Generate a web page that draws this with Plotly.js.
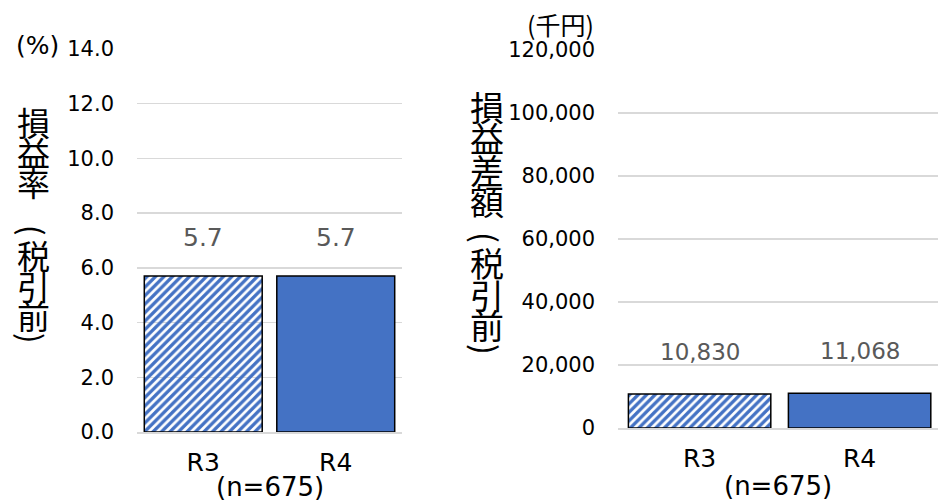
<!DOCTYPE html>
<html>
<head>
<meta charset="utf-8">
<script src="https://cdn.plot.ly/plotly-3.0.1.min.js"></script>
<style>html,body{margin:0;padding:0;background:#fff;}#chart{width:938px;height:501px;}</style>
</head>
<body>
<div id="chart"></div>
<script>
// ---- data ----
const categories = ['R3', 'R4'];
const rateValues = [5.7, 5.7];          // 損益率（税引前） %
const diffValues = [10830, 11068];      // 損益差額（税引前） 千円
const sampleLabel = '(n=675)';
const rateUnit = '(%)';
const diffUnit = '(千円)';
const rateTitleChars = ['損', '益', '率', '(', '税', '引', '前', ')'];
const diffTitleChars = ['損', '益', '差', '額', '(', '税', '引', '前', ')'];

// ---- layout helpers ----
const W = 938, H = 501;
const px = v => v / W;
const py = v => 1 - v / H;
const LATIN = 'DejaVu Sans, Verdana, sans-serif';
const CJK = 'Noto Sans CJK JP, sans-serif';
const BLUE = '#4472C4';
const GRID = '#d9d9d9';

function barTrace(vals, xa, ya) {
  return {
    type: 'bar', x: categories, y: vals, xaxis: xa, yaxis: ya,
    marker: {
      color: [BLUE, BLUE],
      pattern: {shape: ['/', ''], fgcolor: BLUE, bgcolor: ['#ffffff', BLUE], size: 6, solidity: 0.55},
      line: {color: '#000000', width: 1.5}
    },
    hoverinfo: 'skip', showlegend: false
  };
}

const traces = [barTrace(rateValues, 'x', 'y'), barTrace(diffValues, 'x2', 'y2')];

const annotations = [];
// data labels
categories.forEach((c, i) => {
  annotations.push({x: c, y: rateValues[i], xref: 'x', yref: 'y', text: rateValues[i].toFixed(1),
    showarrow: false, xanchor: 'center', yanchor: 'middle', yshift: 39, font: {family: LATIN, size: 25, color: '#595959'}});
  annotations.push({x: c, y: diffValues[i], xref: 'x2', yref: 'y2', text: diffValues[i].toLocaleString('en-US'),
    showarrow: false, xanchor: 'center', yanchor: 'middle', yshift: 42, font: {family: LATIN, size: 23, color: '#595959'}});
});
// sample size under each chart
annotations.push({x: 0.5, xref: 'x domain', y: py(487), yref: 'paper', text: sampleLabel, showarrow: false,
  xanchor: 'center', yanchor: 'middle', font: {family: LATIN, size: 26, color: '#000'}});
annotations.push({x: 0.5, xref: 'x2 domain', y: py(486), yref: 'paper', text: sampleLabel, showarrow: false,
  xanchor: 'center', yanchor: 'middle', font: {family: LATIN, size: 26, color: '#000'}});
// units
annotations.push({x: px(37), y: py(46), xref: 'paper', yref: 'paper', text: rateUnit, showarrow: false,
  xanchor: 'center', yanchor: 'middle', font: {family: LATIN, size: 25, color: '#000'}});
annotations.push({x: px(560), y: py(24), xref: 'paper', yref: 'paper', text: diffUnit, showarrow: false,
  xanchor: 'center', yanchor: 'middle', font: {family: CJK, size: 25, color: '#000'}});
// vertical titles (upright characters stacked)
const rateTitleY = [122, 152, 182, 230, 255, 286, 315, 338];
const diffTitleY = [106, 137, 169, 201, 237, 262, 294, 324, 349];
function addVertical(chars, ys, x, size) {
  chars.forEach((ch, i) => {
    const paren = (ch === '(' || ch === ')');
    annotations.push({x: px(x), y: py(ys[i]), xref: 'paper', yref: 'paper', text: ch, showarrow: false,
      xanchor: 'center', yanchor: 'middle', textangle: paren ? 90 : 0,
      font: {family: CJK, size: paren ? size - 2 : size, color: '#000'}});
  });
}
addVertical(rateTitleChars, rateTitleY, 33, 33);
addVertical(diffTitleChars, diffTitleY, 487, 34);

const yCommon = {
  showgrid: true, gridcolor: GRID, gridwidth: 1.5, zeroline: false, showline: false, ticks: '',
  ticklabelstandoff: 22, tickfont: {family: LATIN, size: 21, color: '#000'}, fixedrange: true
};
const xCommon = {
  type: 'category', showgrid: false, zeroline: false, showline: true, linecolor: GRID, linewidth: 1.5,
  ticks: '', ticklabelstandoff: 7, tickfont: {family: LATIN, size: 25, color: '#000'}, fixedrange: true
};

const layout = {
  width: W, height: H,
  margin: {l: 0, r: 0, t: 0, b: 0, pad: 0},
  paper_bgcolor: '#ffffff', plot_bgcolor: '#ffffff',
  bargap: 0.11,
  showlegend: false,
  xaxis: Object.assign({}, xCommon, {domain: [px(137), px(402)], anchor: 'y', range: [-0.5, 1.5]}),
  yaxis: Object.assign({}, yCommon, {domain: [py(432), py(49)], anchor: 'x', range: [0, 14], dtick: 2, tickformat: '.1f'}),
  xaxis2: Object.assign({}, xCommon, {domain: [px(618), 1], anchor: 'y2', range: [-0.51, 1.49]}),
  yaxis2: Object.assign({}, yCommon, {domain: [py(428), py(50)], anchor: 'x2', range: [0, 120000], dtick: 20000, tickformat: ',d'}),
  annotations: annotations
};

Plotly.newPlot('chart', traces, layout, {staticPlot: true, displayModeBar: false});
</script>
</body>
</html>
